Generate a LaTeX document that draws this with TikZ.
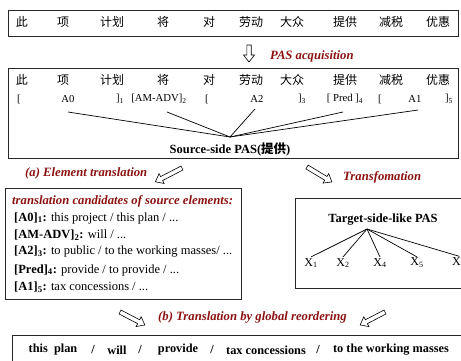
\documentclass[tikz,border=0pt]{standalone}
\usepackage{fontspec}
\setmainfont{Liberation Serif}
\newfontfamily\cjk{Noto Sans CJK SC}
\definecolor{dred}{RGB}{140,18,18}
\newcommand{\harrow}[4]{%
  \begin{scope}[shift={(#1,#2)}, rotate=#3]
    \draw[harr] (0,-2.2) -- (#4-7,-2.2) -- (#4-7,-5.5) -- (#4,0) -- (#4-7,5.5) -- (#4-7,2.2) -- (0,2.2) -- cycle;
  \end{scope}}
\begin{document}
\begin{tikzpicture}[x=1pt,y=-1pt,
  box/.style={draw=black!85, line width=0.9pt},
  zh/.style={font=\cjk\fontsize{12}{14}\selectfont, inner sep=0pt},
  br/.style={font=\fontsize{10.7}{13}\selectfont, inner sep=0pt},
  lab/.style={font=\bfseries\itshape\fontsize{12.7}{14}\selectfont, text=dred, inner sep=0pt},
  cand/.style={font=\fontsize{12.5}{14}\selectfont, anchor=west, inner sep=0pt},
  bw/.style={font=\bfseries\fontsize{12.3}{14}\selectfont, inner sep=0pt},
  xl/.style={font=\fontsize{12}{14}\selectfont, inner sep=1pt},
  edge/.style={line width=0.7pt},
  harr/.style={draw=black, line width=0.6pt, fill=white}]
\useasboundingbox (0,0) rectangle (461,360);
\clip (0,0) rectangle (461,360);

% top box
\draw[box] (8,10) rectangle (458,36);
\draw[box] (8,68) rectangle (458,158);
\foreach \t/\x [count=\i] in {此/22,项/63,计划/112,将/163,对/209,劳动/251,大众/292,提供/345,减税/391,优惠/438} {
  \node[zh] (t\i) at (\x,22) {\t};
  \node[zh] (s\i) at (\x,80) {\t};
}

% PAS acquisition
\harrow{249}{45}{-90}{17}
\node[lab, anchor=west] (acq) at (270,56) {PAS acquisition};

% bracket row
\node[br] (lb1) at (19,99) {[};
\node[br] (a0) at (68,99) {A0};
\node[br] (rb1) at (120,99) {]\textsubscript{1}};
\node[br] (amadv) at (159,99) {[AM-ADV]\textsubscript{2}};
\node[br] (lb3) at (207,99) {[};
\node[br] (a2) at (257,99) {A2};
\node[br] (rb3) at (302,99) {]\textsubscript{3}};
\node[br] (pred) at (345,99) {[ Pred ]\textsubscript{4}};
\node[br] (lb5) at (380,99) {[};
\node[br] (a1) at (415,99) {A1};
\node[br] (rb5) at (449,99) {]\textsubscript{5}};

\coordinate (apex) at (230,137);
\node[font=\bfseries\fontsize{12.5}{14}\selectfont, inner sep=0pt] (src) at (230,149) {Source-side PAS({\cjk 提供})};
\draw[edge] ([yshift=-13pt]a0.center) -- (apex);
\draw[edge] ([xshift=8pt,yshift=-13pt]amadv.center) -- (apex);
\draw[edge] ([xshift=-2pt,yshift=-10pt]a2.center) -- (apex);
\draw[edge] ([xshift=-2pt,yshift=-13pt]pred.center) -- (apex);
\draw[edge] ([xshift=3pt,yshift=-11pt]a1.center) -- (apex);

% element translation
\node[lab, anchor=west] (elab) at (25,173) {(a) Element translation};
\harrow{182}{168}{207.4}{30}
\node[lab, anchor=west] (tlab) at (343,177) {Transfomation};
\harrow{307}{167}{-31}{29}

% left box
\draw[box] (5,188) rectangle (241,299);
\node[lab, anchor=west] (ctitle) at (12,201) {translation candidates of source elements:};
\node[cand] (c1) at (14,218) {\textbf{[A0]\textsubscript{1}:} this project / this plan / ...};
\node[cand] (c2) at (14,235) {\textbf{[AM-ADV]\textsubscript{2}:} will / ...};
\node[cand] (c3) at (14,252) {\textbf{[A2]\textsubscript{3}:} to public / to the working masses/ ...};
\node[cand] (c4) at (14,270) {\textbf{[Pred]\textsubscript{4}:} provide / to provide / ...};
\node[cand] (c5) at (14,287) {\textbf{[A1]\textsubscript{5}:} tax concessions / ...};

% right box
\draw[box] (295,198) rectangle (475,288);
\node[font=\bfseries\fontsize{12.5}{14}\selectfont, inner sep=0pt] (tgt) at (383,220) {Target-side-like PAS};
\coordinate (tapex) at (367,229);
\node[xl] (x1) at (311,263) {X\textsubscript{1}};
\node[xl] (x2) at (343,263) {X\textsubscript{2}};
\node[xl] (x4) at (380,263) {X\textsubscript{4}};
\node[xl] (x5) at (417,263) {X\textsubscript{5}};
\node[xl, anchor=west] (x3) at (451,261.5) {X};
\draw[edge] (tapex) -- (x1.north);
\draw[edge] (tapex) -- (x2.north);
\draw[edge] (tapex) -- (x4.north);
\draw[edge] (tapex) -- (x5.north);
\draw[edge] (tapex) -- ([xshift=3pt]x3.north);

% bottom
\harrow{120}{312}{-27.5}{28}
\harrow{385}{312}{207.5}{28}
\node[lab, anchor=west] (blab) at (158,317) {(b) Translation by global reordering};
\draw[box] (12,335) rectangle (475,375);
\node[bw] (w1) at (53,350) {this\ \ plan};
\node[bw] (d1) at (93,350) {/};
\node[bw] (w2) at (117,350) {will};
\node[bw] (d2) at (140,350) {/};
\node[bw] (w3) at (178,350) {provide};
\node[bw] (d3) at (212,350) {/};
\node[bw] (w4) at (266,350) {tax concessions};
\node[bw] (d4) at (318,350) {/};
\node[bw] (w5) at (391,350) {to the working masses};
\end{tikzpicture}
\end{document}
